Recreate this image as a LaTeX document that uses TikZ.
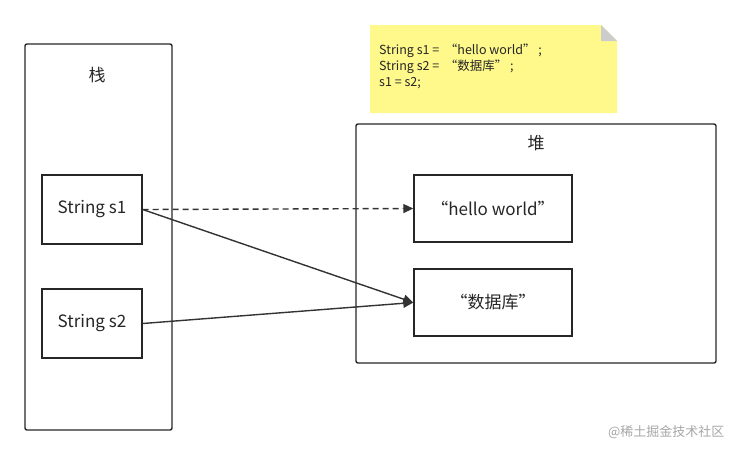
\documentclass[tikz,border=0pt]{standalone}
\usepackage{fontspec}
\setmainfont{Noto Sans CJK SC}
\usetikzlibrary{arrows.meta}
\begin{document}
\begin{tikzpicture}[x=1pt,y=-1pt,
  box/.style={draw=black!85,line width=1.4pt,fill=white,inner sep=0pt},
  outer/.style={draw=black!85,line width=1.4pt,rounded corners=2pt},
  conn/.style={draw=black!80,line width=1.4pt,-{Triangle[length=10pt,width=9pt]}},
  lbl/.style={font=\fontsize{17}{19}\selectfont,text=black!85}]
\useasboundingbox (0,0) rectangle (741,456);
\draw[outer] (25,44) rectangle (172,430);
\node[lbl] (zhan) at (97,75) {栈};
\draw[outer] (356,124) rectangle (716,363);
\node[lbl] (dui) at (536,143) {堆};
\node[box,lbl,minimum width=100pt,minimum height=69pt] (s1) at (92,209.5) {String s1};
\node[box,lbl,minimum width=100pt,minimum height=69pt] (s2) at (92,323.5) {String s2};
\node[box,lbl,minimum width=158pt,minimum height=67pt] (hw) at (493,208.5) {“hello world”};
\node[box,lbl,minimum width=158pt,minimum height=67pt] (db) at (493,302.5) {“数据库”};
\fill[yellow!45!white,draw=none] (370,25) -- (601,25) -- (617,41) -- (617,113) -- (370,113) -- cycle;
\fill[black!20] (601,25) -- (617,41) -- (601,41) -- cycle;
\node[anchor=north west,align=left,font=\fontsize{12.5}{16}\selectfont,text=black!85,inner sep=0pt] (note) at (379,44)
 {String s1 = \ “hello world”\ ;\\String s2 = \ “数据库”\ ;\\s1 = s2;};
\draw[conn,dash pattern=on 6pt off 4pt] (s1.east) -- (hw.west);
\draw[conn] (s1.east) -- (db.west);
\draw[conn] (s2.east) -- (db.west);
\node[text=black!35,font=\fontsize{13}{15}\selectfont,anchor=east] (wm) at (728,432) {@稀土掘金技术社区};
\end{tikzpicture}
\end{document}
